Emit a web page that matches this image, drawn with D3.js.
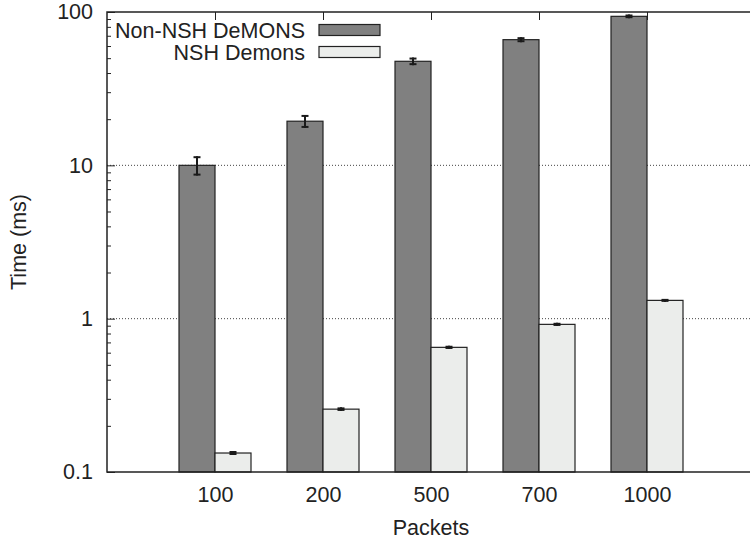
<!DOCTYPE html>
<html lang="en">
<head>
<meta charset="UTF-8">
<title>Time vs Packets</title>
<style>
  body { margin: 0; background: #fff; }
  svg text { font-family: "Liberation Sans", Arial, Helvetica, sans-serif; fill: #222; }
</style>
</head>
<body>
<script src="https://cdn.jsdelivr.net/npm/d3@7"></script>
<script>
// data
var categories = ["100", "200", "500", "700", "1000"]
var nonNsh = [10.0, 19.4, 47.7, 66.0, 93.7]
var nonNshErr = [1.3, 1.6, 2.0, 1.5, 1.2]
var nsh = [0.133, 0.257, 0.650, 0.918, 1.316]
var nshErr = [0.002, 0.003, 0.006, 0.008, 0.01]
var seriesNames = ["Non-NSH DeMONS", "NSH Demons"]
var yTicks = [0.1, 1, 10, 100]

var width = 750, height = 541
var mLeft = 107, mRight = 755, mTop = 12, mBottom = 472
var barW = 36
var colors = ["#808080", "#ebedeb"]
var fs = 21.5

var svg = d3.select('body').append('svg').attr('width', width).attr('height', height)

var x = d3.scalePoint().domain(categories).range([mLeft + 108, mRight - 108])
var y = d3.scaleLog().domain([0.1, 100]).range([mBottom, mTop])

// dotted grid
svg.append('g').selectAll('line').data([1, 10]).enter().append('line')
    .attr('x1', mLeft).attr('x2', mRight)
    .attr('y1', d => y(d)).attr('y2', d => y(d))
    .attr('stroke', '#444').attr('stroke-width', 1).attr('stroke-dasharray', '1,2')

// minor ticks on the left
var minor = []
;[0.1, 1, 10].forEach(function(dec) { for (var k = 2; k <= 9; k++) minor.push(dec * k) })
svg.append('g').attr('transform', `translate(${mLeft},0)`)
    .call(d3.axisLeft(y).tickValues(minor).tickSizeInner(-4).tickSizeOuter(0).tickFormat(''))
    .call(g => g.select('.domain').remove())
    .selectAll('line').attr('stroke', '#222')

// major ticks + labels
svg.append('g').attr('transform', `translate(${mLeft},0)`)
    .call(d3.axisLeft(y).tickValues(yTicks).tickSizeInner(-8).tickSizeOuter(0).tickPadding(14)
        .tickFormat(d3.format('')))
    .call(g => g.select('.domain').remove())
    .call(g => g.selectAll('line').attr('stroke', '#222'))
    .selectAll('text').attr('font-size', fs).attr('fill', '#222')

// top ticks
svg.append('g').attr('transform', `translate(0,${mTop})`)
    .call(d3.axisTop(x).tickSizeInner(-8).tickSizeOuter(0).tickFormat(''))
    .call(g => g.select('.domain').remove())
    .selectAll('line').attr('stroke', '#222')

// bars
var groups = svg.append('g').selectAll('g').data(categories).enter().append('g')
groups.append('rect')
    .attr('x', d => x(d) - barW).attr('width', barW)
    .attr('y', (d, i) => y(nonNsh[i])).attr('height', (d, i) => mBottom - y(nonNsh[i]))
    .attr('fill', colors[0]).attr('stroke', '#222').attr('stroke-width', 1.2)
groups.append('rect')
    .attr('x', d => x(d)).attr('width', barW)
    .attr('y', (d, i) => y(nsh[i])).attr('height', (d, i) => mBottom - y(nsh[i]))
    .attr('fill', colors[1]).attr('stroke', '#222').attr('stroke-width', 1.2)

// error bars
function errBars(vals, errs, cx) {
    var g = svg.append('g').attr('stroke', '#1a1a1a').attr('stroke-width', 2)
    categories.forEach(function(c, i) {
        var xc = x(c) + cx
        var y0 = y(vals[i] - errs[i]), y1 = y(vals[i] + errs[i])
        g.append('line').attr('x1', xc).attr('x2', xc).attr('y1', y0 + 1).attr('y2', y1 - 1)
        g.append('line').attr('x1', xc - 3.5).attr('x2', xc + 3.5).attr('y1', y0).attr('y2', y0)
        g.append('line').attr('x1', xc - 3.5).attr('x2', xc + 3.5).attr('y1', y1).attr('y2', y1)
    })
}
errBars(nonNsh, nonNshErr, -barW / 2)
errBars(nsh, nshErr, barW / 2)

// frame
svg.append('path')
    .attr('d', `M${mRight},${mTop}H${mLeft}V${mBottom}H${mRight}`)
    .attr('fill', 'none').attr('stroke', '#222').attr('stroke-width', 1.5)

// bottom labels
svg.append('g').attr('transform', `translate(0,${mBottom})`)
    .call(d3.axisBottom(x).tickSizeInner(0).tickSizeOuter(0).tickPadding(15))
    .call(g => g.select('.domain').remove())
    .selectAll('text').attr('font-size', fs).attr('fill', '#222')

// legend
var leg = svg.append('g').selectAll('g').data(seriesNames).enter().append('g')
    .attr('transform', (d, i) => `translate(0,${30 + i * 22})`)
leg.append('text').attr('x', 305).attr('dy', '0.35em').attr('text-anchor', 'end')
    .attr('font-size', fs).text(d => d)
leg.append('rect').attr('x', 319).attr('y', -5.5).attr('width', 61).attr('height', 11)
    .attr('fill', (d, i) => colors[i]).attr('stroke', '#222').attr('stroke-width', 1.2)

// axis titles
svg.append('text').attr('transform', 'translate(18,242) rotate(-90)')
    .attr('text-anchor', 'middle').attr('dy', '0.35em').attr('font-size', fs).text('Time (ms)')
svg.append('text').attr('x', 431).attr('y', 535)
    .attr('text-anchor', 'middle').attr('font-size', fs).text('Packets')
</script>
</body>
</html>
